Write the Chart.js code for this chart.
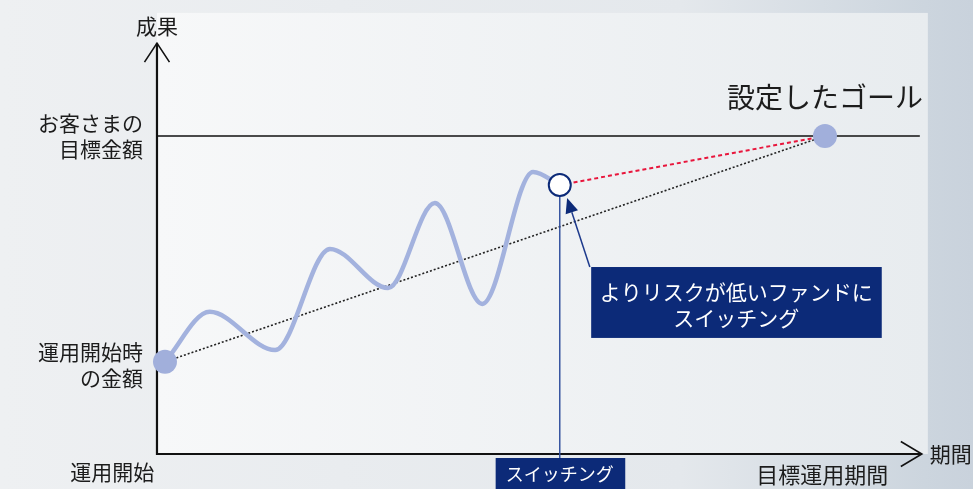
<!DOCTYPE html>
<html lang="ja">
<head>
<meta charset="utf-8">
<title>目標運用期間とスイッチング</title>
<script src="https://cdn.jsdelivr.net/npm/chart.js@4.4.1/dist/chart.umd.min.js"></script>
<style>
  html, body { margin: 0; padding: 0; background: #e9ecef; }
  #wrap { width: 973px; height: 489px; }
</style>
</head>
<body>
<div id="wrap"><canvas id="goalChart" width="973" height="489"></canvas></div>
<script>
// 期間 (x) と 成果 (y) の値。目標到達点を (100, 100) とした相対値
const waveX = [1.2, 7.9, 17.7, 25.9, 34.6, 41.6, 48.7, 56.3, 60.3];
const waveY = [29, 44.7, 32.7, 64.5, 52.2, 78.9, 47.2, 88.7, 84.6];
const startPoint = { x: 1.2, y: 29 };
const switchPoint = { x: 60.3, y: 84.6 };
const goalPoint = { x: 100, y: 100 };
const targetAmount = 100;
const targetLineEnd = 114.2;

const yAxisTitle = '成果';
const xAxisTitle = '期間';
const targetLabel = ['お客さまの', '目標金額'];
const startLabel = ['運用開始時', 'の金額'];
const startTimeLabel = '運用開始';
const goalTimeLabel = '目標運用期間';
const goalLabel = '設定したゴール';
const switchLabel = 'スイッチング';
const noteLines = ['よりリスクが低いファンドに', 'スイッチング'];

const FONT = "'Noto Sans CJK JP', 'Noto Sans', sans-serif";
const NAVY = '#0c2a78';

const wave = waveX.map((x, i) => ({ x, y: waveY[i] }));

// 背景・パネル・軸
const backdrop = {
  id: 'backdrop',
  beforeDraw(chart) {
    const { ctx, width, height } = chart;
    const x = chart.scales.x, y = chart.scales.y;
    ctx.save();
    let g = ctx.createLinearGradient(0, 0, width, 0);
    g.addColorStop(0, '#eef0f2');
    g.addColorStop(0.7, '#e4e8ec');
    g.addColorStop(0.95, '#ccd5de');
    g.addColorStop(1, '#c9d2dc');
    ctx.fillStyle = g;
    ctx.fillRect(0, 0, width, height);

    const l = x.getPixelForValue(0), r = x.getPixelForValue(115.4);
    const t = y.getPixelForValue(138.7), b = y.getPixelForValue(0);
    g = ctx.createLinearGradient(l, 0, r, 0);
    g.addColorStop(0, '#f7f8f9');
    g.addColorStop(1, '#e8ecef');
    ctx.fillStyle = g;
    ctx.fillRect(l, t, r - l, b - t);
    ctx.restore();
  },
  beforeDatasetsDraw(chart) {
    const { ctx } = chart;
    const x = chart.scales.x, y = chart.scales.y;
    const ox = x.getPixelForValue(0), oy = y.getPixelForValue(0);
    const topY = y.getPixelForValue(129.2), endX = x.getPixelForValue(114.5);
    ctx.save();
    ctx.strokeStyle = '#111';
    ctx.lineWidth = 2.2;
    ctx.lineCap = 'butt';
    ctx.beginPath();
    ctx.moveTo(ox, oy + 1);
    ctx.lineTo(ox, topY);
    ctx.moveTo(ox - 1, oy);
    ctx.lineTo(endX, oy);
    ctx.stroke();
    ctx.lineWidth = 1.6;
    ctx.lineJoin = 'miter';
    ctx.beginPath();
    ctx.moveTo(ox - 12.5, topY + 19);
    ctx.lineTo(ox, topY);
    ctx.lineTo(ox + 12.5, topY + 19);
    ctx.moveTo(endX - 21, oy - 12.5);
    ctx.lineTo(endX, oy);
    ctx.lineTo(endX - 21, oy + 12.5);
    ctx.stroke();
    ctx.restore();
  },
  afterDatasetsDraw(chart) {
    const { ctx } = chart;
    const x = chart.scales.x, y = chart.scales.y;
    const px = v => x.getPixelForValue(v), py = v => y.getPixelForValue(v);
    ctx.save();
    ctx.fillStyle = '#1c1c1c';
    ctx.textBaseline = 'middle';

    ctx.font = '21px ' + FONT;
    ctx.textAlign = 'center';
    ctx.fillText(yAxisTitle, px(0), py(134.6));
    ctx.textAlign = 'left';
    ctx.fillText(xAxisTitle, px(115.7), py(0));

    ctx.textAlign = 'right';
    ctx.fillText(targetLabel[0], px(-2.1), py(targetAmount + 4.1));
    ctx.fillText(targetLabel[1], px(-2.1), py(targetAmount - 4.1));
    ctx.fillText(startLabel[0], px(-2.1), py(32.1));
    ctx.fillText(startLabel[1], px(-2.1), py(23.9));

    ctx.textAlign = 'center';
    ctx.fillText(startTimeLabel, px(-6.7), py(-5.7));
    ctx.font = '22px ' + FONT;
    ctx.fillText(goalTimeLabel, px(goalPoint.x - 0.4), py(-6.6));

    ctx.font = '28px ' + FONT;
    ctx.fillText(goalLabel, px(goalPoint.x), py(112.3));

    // 下部の「スイッチング」ラベル
    ctx.fillStyle = NAVY;
    ctx.fillRect(px(50.7), py(-1.26), px(70.1) - px(50.7), py(-12) - py(-1.26));
    ctx.fillStyle = '#fff';
    ctx.font = '18px ' + FONT;
    ctx.fillText(switchLabel, px(switchPoint.x), py(-6.3));

    // 吹き出しと矢印
    const ax = px(64.8), ay = py(58.8), tx = px(61.4), ty = py(80.5);
    ctx.strokeStyle = '#1d3a8c';
    ctx.lineWidth = 1.5;
    const ang = Math.atan2(ty - ay, tx - ax);
    const hx = tx - 15 * Math.cos(ang), hy = ty - 15 * Math.sin(ang);
    ctx.beginPath();
    ctx.moveTo(ax, ay);
    ctx.lineTo(hx, hy);
    ctx.stroke();
    ctx.fillStyle = NAVY;
    ctx.beginPath();
    ctx.moveTo(tx, ty);
    ctx.lineTo(hx + 6.5 * Math.sin(ang), hy - 6.5 * Math.cos(ang));
    ctx.lineTo(hx - 6.5 * Math.sin(ang), hy + 6.5 * Math.cos(ang));
    ctx.closePath();
    ctx.fill();

    ctx.fillRect(px(65.0), py(58.8), px(108.5) - px(65.0), py(36.5) - py(58.8));
    ctx.fillStyle = '#fff';
    ctx.font = '21px ' + FONT;
    ctx.fillText(noteLines[0], px(86.7), py(50.9));
    ctx.fillText(noteLines[1], px(86.7), py(42.8));
    ctx.restore();
  }
};

new Chart(document.getElementById('goalChart'), {
  type: 'line',
  data: {
    datasets: [
      {
        // 運用開始・ゴール
        data: [startPoint, goalPoint],
        showLine: false,
        pointRadius: 12,
        pointHoverRadius: 12,
        pointBackgroundColor: '#a1afdb',
        pointBorderWidth: 0,
        order: 0
      },
      {
        // スイッチング時点
        data: [switchPoint],
        showLine: false,
        pointRadius: 11,
        pointHoverRadius: 11,
        pointBackgroundColor: '#ffffff',
        pointBorderColor: NAVY,
        pointBorderWidth: 2,
        order: 1
      },
      {
        // 運用成果の推移
        data: wave,
        borderColor: '#a3b2de',
        borderWidth: 4.5,
        cubicInterpolationMode: 'monotone',
        pointRadius: 0,
        order: 3
      },
      {
        // 目標金額
        data: [{ x: 0, y: targetAmount }, { x: targetLineEnd, y: targetAmount }],
        borderColor: '#111',
        borderWidth: 1.3,
        pointRadius: 0,
        order: 5
      },
      {
        // 開始からゴールまで
        data: [startPoint, goalPoint],
        borderColor: '#222',
        borderWidth: 1.6,
        borderDash: [2, 2],
        pointRadius: 0,
        order: 4
      },
      {
        // スイッチング後
        data: [switchPoint, goalPoint],
        borderColor: '#e8163c',
        borderWidth: 2,
        borderDash: [4, 3],
        pointRadius: 0,
        order: 2
      },
      {
        // スイッチング時点の縦線
        data: [switchPoint, { x: switchPoint.x, y: -1.26 }],
        borderColor: '#2a4a9a',
        borderWidth: 1.4,
        pointRadius: 0,
        order: 2
      }
    ]
  },
  options: {
    responsive: false,
    animation: false,
    events: [],
    layout: { padding: 0, autoPadding: false },
    clip: false,
    scales: {
      x: { type: 'linear', min: -23.5, max: 122.16, display: false },
      y: { type: 'linear', min: -11.006, max: 142.77, display: false }
    },
    plugins: {
      legend: { display: false },
      tooltip: { enabled: false }
    }
  },
  plugins: [backdrop]
});
</script>
</body>
</html>
